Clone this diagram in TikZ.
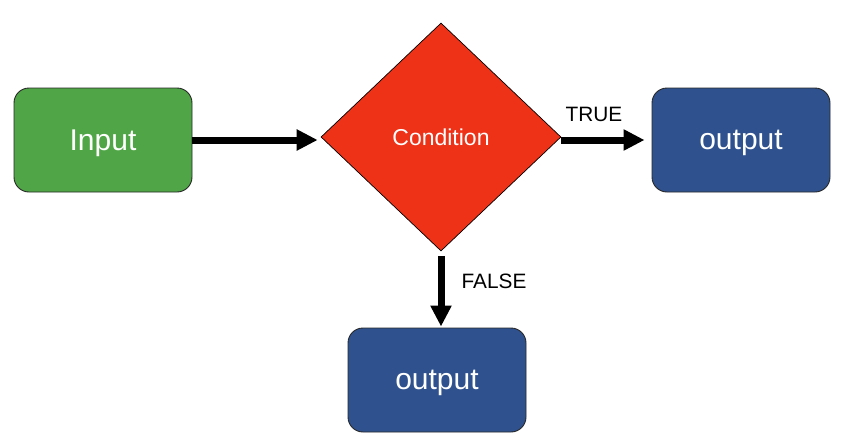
\documentclass[tikz,border=0pt]{standalone}
\usepackage{fontspec}
\setmainfont{Liberation Sans}
\usetikzlibrary{shapes.geometric,arrows.meta}
\definecolor{boxgreen}{RGB}{80,166,70}
\definecolor{condred}{RGB}{238,50,24}
\definecolor{outblue}{RGB}{47,82,143}
\definecolor{edgegray}{RGB}{40,40,40}
\begin{document}
\begin{tikzpicture}[x=1pt,y=-1pt,
  procbox/.style={draw=edgegray,line width=0.9pt,rounded corners=15pt,
    minimum width=178pt,minimum height=104pt,inner sep=0pt,text depth=0pt,
    text=white,font=\fontsize{30}{34}\selectfont},
  decision/.style={diamond,draw=black,line width=0.7pt,fill=condred,
    minimum width=240pt,minimum height=228pt,inner sep=0pt,
    text=white,font=\fontsize{23}{27}\selectfont},
  flow/.style={line width=7pt,-{Triangle[length=21pt,width=20pt]}},
  edgelabel/.style={font=\fontsize{20.8}{24}\selectfont,inner sep=0pt}]
\useasboundingbox (0,0) rectangle (844,445);
\node[procbox,fill=boxgreen] (input) at (103,140) {Input};
\node[decision] (cond) at (441,137) {Condition};
\node[procbox,fill=outblue] (outtrue) at (741,140) {output};
\node[procbox,fill=outblue] (outfalse) at (437,380) {output};
\draw[flow,shorten >=3pt] (input.east) -- (input.east -| cond.west);
\draw[flow,shorten >=7pt] (cond.east |- outtrue.west) -- (outtrue.west);
\draw[flow,shorten <=5pt,shorten >=1pt] (cond.south) -- (cond.south |- outfalse.north);
\node[edgelabel] (tl) at (594,114) {TRUE};
\node[edgelabel] (fl) at (494,281) {FALSE};
\end{tikzpicture}
\end{document}
